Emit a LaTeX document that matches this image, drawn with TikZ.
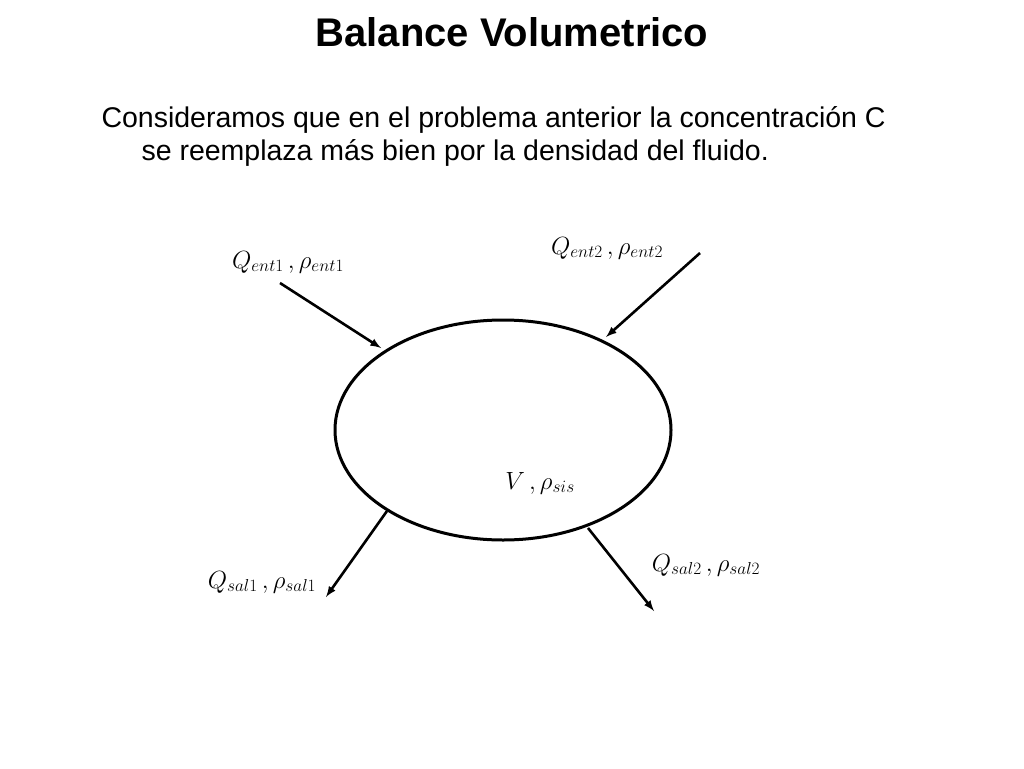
\documentclass[tikz,border=0pt]{standalone}
\usepackage{fontspec}
\setmainfont{Liberation Sans}
\usetikzlibrary{positioning}
\usetikzlibrary{calc}

\begin{document}
\begin{tikzpicture}[x=1pt, y=-1pt,
  flow/.style={-latex, line width=2.6pt},
  lbl/.style={font=\fontsize{24}{26}\selectfont}]

\useasboundingbox (0,0) rectangle (1024,768);

% title and text
\node (title) at (512,32) {\fontsize{40}{44}\selectfont\bfseries Balance Volumetrico};
\node[anchor=west, font=\fontsize{28.5}{33}\selectfont] (txt1) at (98,120) {Consideramos que en el problema anterior la concentración C};
\node[anchor=west, font=\fontsize{28.5}{33}\selectfont] (txt2) at (138,153) {se reemplaza más bien por la densidad del fluido.};

% system
\draw[line width=3pt] (503,430) ellipse (168 and 110);
\node[lbl] (sys) at (540,483) {$V\,,\rho_{sis}$};

% inlets
\coordinate (in1a) at (280,283);
\coordinate (in1b) at (381,348);
\coordinate (in2a) at (700,253);
\coordinate (in2b) at (606,337);
\draw[flow] (in1a) -- (in1b);
\draw[flow] (in2a) -- (in2b);
\node[lbl] (ent1) at (288,262) {$Q_{ent1}\,,\rho_{ent1}$};
\node[lbl] (ent2) at (607,248) {$Q_{ent2}\,,\rho_{ent2}$};

% outlets
\coordinate (out1a) at (387,511);
\coordinate (out1b) at (326,597);
\coordinate (out2a) at (588,528);
\coordinate (out2b) at (654,611);
\draw[flow] (out1a) -- (out1b);
\draw[flow] (out2a) -- (out2b);
\node[lbl] (sal1) at (262,582) {$Q_{sal1}\,,\rho_{sal1}$};
\node[lbl] (sal2) at (706,565) {$Q_{sal2}\,,\rho_{sal2}$};

\end{tikzpicture}
\end{document}
